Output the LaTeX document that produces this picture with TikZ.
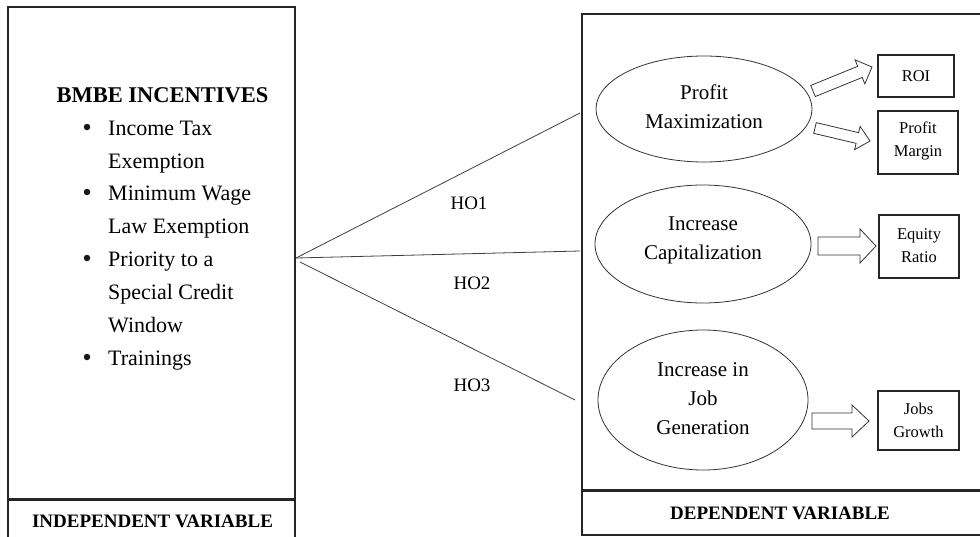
\documentclass[tikz,border=0pt]{standalone}
\usepackage{fontspec}
\setmainfont{Liberation Serif}
\usetikzlibrary{calc,shapes.geometric}
\tikzset{
  frame/.style={draw=black!85, line width=1.3pt, inner sep=0pt, anchor=center},
  oval/.style={ellipse, draw=black!80, line width=0.8pt, inner sep=0pt},
  smallbox/.style={draw=black!85, line width=1.1pt, inner sep=0pt},
  ovaltext/.style={align=center, font=\fontsize{21}{29}\selectfont},
  boxtext/.style={align=center, font=\fontsize{16.5}{23}\selectfont},
  listtext/.style={anchor=base west, inner sep=0pt, font=\fontsize{22}{32.7}\selectfont},
  bul/.style={circle, fill=black!90, inner sep=0pt, minimum size=6.5pt},
  hoto/.style={draw=black!75, line width=0.8pt},
  holabel/.style={font=\fontsize{19}{20}\selectfont, inner sep=0pt},
  blockarrow/.style={draw=black!80, line width=0.8pt, fill=white, line join=miter},
  vartext/.style={font=\fontsize{19}{20}\selectfont\bfseries, inner sep=0pt}
}
\newcommand\blockarr[5]{%
  \coordinate (#1neck) at ($(#2)!#5!(#1)$);
  \draw[blockarrow] ($(#1)!#3!90:(#2)$) -- ($(#1neck)!#3!90:(#2)$)
     -- ($(#1neck)!#4!90:(#2)$) -- (#2) -- ($(#1neck)!#4!-90:(#2)$)
     -- ($(#1neck)!#3!-90:(#2)$) -- ($(#1)!#3!-90:(#2)$) -- cycle;}
\begin{document}
\begin{tikzpicture}[x=1pt,y=-1pt]
\useasboundingbox (0,0) rectangle (980,536);
\fill[white] (0,0) rectangle (980,536);
% left frame
\node[frame, minimum width=287pt, minimum height=492pt] (lbox) at (151.5,253) {};
\node[frame, minimum width=287pt, minimum height=50pt] (llab) at (151.5,524) {};
\draw[black!85, line width=2pt] (lbox.south west) -- (lbox.south east);
\node[vartext, anchor=base] (ltxt) at (152.5,527) {INDEPENDENT VARIABLE};
% left content
\node[anchor=base, inner sep=0pt, font=\fontsize{22.5}{32.7}\selectfont\bfseries] (title) at (162.5,102) {BMBE INCENTIVES};
\node[bul] (b1) at (87,127) {};
\node[listtext] (l1) at (108,135) {Income Tax};
\node[listtext] (l2) at (108,168) {Exemption};
\node[bul] (b2) at (87,192) {};
\node[listtext] (l3) at (108,200) {Minimum Wage};
\node[listtext] (l4) at (108,233) {Law Exemption};
\node[bul] (b3) at (87,258) {};
\node[listtext] (l5) at (108,266) {Priority to a};
\node[listtext] (l6) at (108,299) {Special Credit};
\node[listtext] (l7) at (108,332) {Window};
\node[bul] (b4) at (87,357) {};
\node[listtext] (l8) at (108,365) {Trainings};
% right frame
\node[frame, minimum width=408pt, minimum height=476pt] (rbox) at (786,252) {};
\node[frame, minimum width=408pt, minimum height=45pt] (rlab) at (786,512.5) {};
\draw[black!85, line width=2pt] (rbox.south west) -- (rbox.south east);
\node[vartext, anchor=base] (rtxt) at (780,519) {DEPENDENT VARIABLE};
% ellipses
\node[oval, minimum width=216pt, minimum height=106pt] (pm) at (704,109) {};
\node[ovaltext] (pmt) at (704,107) {Profit\\Maximization};
\node[oval, minimum width=216pt, minimum height=118pt] (ic) at (703,244) {};
\node[ovaltext] (ict) at (703,240) {Increase\\Capitalization};
\node[oval, minimum width=210pt, minimum height=140pt] (jg) at (703,400) {};
\node[ovaltext] (jgt) at (703,399) {Increase in\\Job\\Generation};
% small boxes
\node[smallbox, minimum width=76pt, minimum height=42pt] (roi) at (916,76) {};
\node[boxtext] (roit) at (916,76) {ROI};
\node[smallbox, minimum width=80pt, minimum height=63pt] (pmg) at (918,142.5) {};
\node[boxtext] (pmgt) at (918,141) {Profit\\Margin};
\node[smallbox, minimum width=80pt, minimum height=63pt] (eq) at (919,246.5) {};
\node[boxtext] (eqt) at (919,245.5) {Equity\\Ratio};
\node[smallbox, minimum width=81pt, minimum height=59pt] (jb) at (918.5,420.5) {};
\node[boxtext] (jbt) at (918.5,420.5) {Jobs\\Growth};
% hypotheses lines
\coordinate (hub) at (296,258);
\coordinate (h1end) at (580,113);
\coordinate (h2end) at (580,251);
\coordinate (h3start) at (300,262);
\coordinate (h3end) at (575,400);
\draw[hoto] (hub) -- (h1end);
\draw[hoto] (hub) -- (h2end);
\draw[hoto] (h3start) -- (h3end);
\node[holabel] (ho1) at (469,203) {HO1};
\node[holabel] (ho2) at (472,283) {HO2};
\node[holabel] (ho3) at (472,385) {HO3};
% block arrows
\coordinate (a1t) at (813,91);  \coordinate (a1p) at (872,67);
\coordinate (a2t) at (815,128); \coordinate (a2p) at (870,141);
\coordinate (a3t) at (818,246); \coordinate (a3p) at (876,246);
\coordinate (a4t) at (812,421); \coordinate (a4p) at (869,421);
\blockarr{a1t}{a1p}{6pt}{13pt}{13pt}
\blockarr{a2t}{a2p}{5.5pt}{12pt}{13pt}
\blockarr{a3t}{a3p}{9pt}{17pt}{16pt}
\blockarr{a4t}{a4p}{8pt}{16pt}{17pt}
\end{tikzpicture}
\end{document}
